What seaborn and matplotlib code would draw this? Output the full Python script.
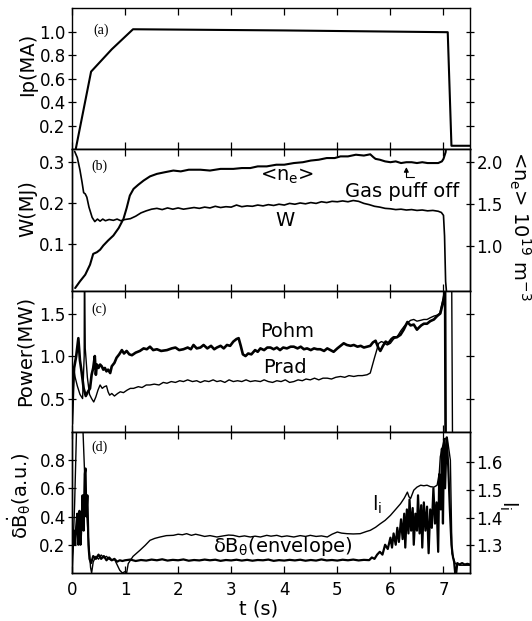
import matplotlib
matplotlib.use("Agg")
import matplotlib.pyplot as plt
from matplotlib.ticker import FormatStrFormatter
import seaborn as sns
import pandas as pd

# ---------------- data ----------------
IP_TRACE = [(0.07, 0.0), (0.36, 0.66), (0.75, 0.85), (1.15, 1.02), (4.0, 1.01),
            (7.08, 0.995), (7.15, 0.03), (7.5, 0.03)]

W_TRACE = [(0.05, 0.325), (0.10, 0.31), (0.15, 0.28), (0.19, 0.25), (0.22, 0.225), (0.25, 0.222),
           (0.28, 0.214), (0.32, 0.19), (0.38, 0.165), (0.43, 0.155), (0.48, 0.161), (0.53, 0.156),
           (0.58, 0.161), (0.63, 0.157), (0.70, 0.160), (0.78, 0.158), (0.85, 0.161), (0.92, 0.157),
           (1.00, 0.160), (1.10, 0.162), (1.20, 0.168), (1.30, 0.176), (1.40, 0.181), (1.50, 0.185),
           (1.60, 0.187), (1.70, 0.184), (1.80, 0.188), (1.90, 0.185), (2.00, 0.188), (2.10, 0.185),
           (2.20, 0.187), (2.30, 0.189), (2.40, 0.187), (2.50, 0.190), (2.60, 0.188), (2.70, 0.192),
           (2.80, 0.189), (2.90, 0.191), (3.00, 0.190), (3.10, 0.195), (3.20, 0.191), (3.30, 0.193),
           (3.40, 0.192), (3.50, 0.195), (3.60, 0.193), (3.70, 0.196), (3.80, 0.194), (3.90, 0.197),
           (4.00, 0.195), (4.10, 0.199), (4.20, 0.197), (4.30, 0.200), (4.40, 0.198), (4.50, 0.201),
           (4.60, 0.199), (4.70, 0.203), (4.80, 0.201), (4.90, 0.204), (5.00, 0.203), (5.10, 0.205),
           (5.20, 0.203), (5.30, 0.206), (5.40, 0.204), (5.50, 0.199), (5.60, 0.196), (5.70, 0.192),
           (5.80, 0.190), (5.90, 0.187), (6.00, 0.186), (6.10, 0.184), (6.20, 0.185), (6.30, 0.183),
           (6.40, 0.184), (6.50, 0.182), (6.60, 0.183), (6.70, 0.181), (6.80, 0.182), (6.90, 0.180),
           (6.96, 0.177), (7.00, 0.170), (7.02, 0.120), (7.04, 0.010), (7.06, -0.020)]

NE_TRACE = [(0.06, 0.49), (0.15, 0.57), (0.25, 0.65), (0.34, 0.77), (0.40, 0.90), (0.47, 0.92),
            (0.53, 0.95), (0.59, 1.00), (0.68, 1.06), (0.78, 1.12), (0.88, 1.21), (0.97, 1.32),
            (1.03, 1.45), (1.09, 1.60), (1.16, 1.68), (1.25, 1.73), (1.35, 1.78), (1.47, 1.83),
            (1.60, 1.86), (1.75, 1.88), (1.91, 1.90), (2.05, 1.89), (2.20, 1.91), (2.42, 1.91),
            (2.60, 1.90), (2.80, 1.92), (3.04, 1.92), (3.20, 1.93), (3.36, 1.93), (3.50, 1.95),
            (3.67, 1.95), (3.85, 1.97), (4.00, 1.97), (4.18, 1.99), (4.35, 2.00), (4.50, 2.02),
            (4.65, 2.03), (4.80, 2.05), (4.95, 2.05), (5.06, 2.07), (5.20, 2.07), (5.35, 2.09),
            (5.50, 2.08), (5.62, 2.095), (5.68, 2.06), (5.72, 2.04), (5.80, 2.03), (5.90, 2.01),
            (6.00, 2.00), (6.10, 2.01), (6.20, 1.99), (6.30, 2.00), (6.40, 2.00), (6.50, 1.99),
            (6.60, 2.00), (6.70, 1.99), (6.80, 1.99), (6.90, 1.99), (6.97, 2.01), (7.00, 2.04),
            (7.04, 2.12), (7.07, 2.30)]

POHM_TRACE = [(0.0, 0.2), (0.02, 0.6), (0.04, 0.86), (0.08, 1.0), (0.12, 1.21), (0.15, 0.95),
              (0.18, 0.82), (0.22, 0.62), (0.26, 0.53), (0.30, 0.58), (0.34, 0.62), (0.37, 0.78),
              (0.40, 0.86), (0.43, 1.0), (0.45, 0.78), (0.47, 0.9), (0.50, 0.86), (0.53, 0.9),
              (0.56, 0.88), (0.59, 0.84), (0.62, 0.86), (0.65, 0.82), (0.68, 0.84), (0.72, 0.80),
              (0.75, 0.88), (0.80, 0.92), (0.84, 0.98), (0.89, 1.02), (0.94, 1.07), (0.98, 1.03),
              (1.03, 1.06), (1.08, 1.02), (1.13, 1.01), (1.20, 1.04), (1.28, 1.06), (1.35, 1.09),
              (1.41, 1.08), (1.47, 1.11), (1.53, 1.07), (1.60, 1.08), (1.68, 1.06), (1.79, 1.07),
              (1.88, 1.09), (1.95, 1.10), (2.02, 1.07), (2.10, 1.08), (2.18, 1.10), (2.24, 1.08),
              (2.29, 1.13), (2.35, 1.09), (2.42, 1.10), (2.48, 1.13), (2.55, 1.09), (2.62, 1.12),
              (2.68, 1.08), (2.73, 1.10), (2.80, 1.12), (2.86, 1.09), (2.92, 1.13), (2.98, 1.12),
              (3.04, 1.17), (3.10, 1.20), (3.14, 1.21), (3.18, 1.12), (3.22, 1.02), (3.27, 1.00),
              (3.32, 1.03), (3.38, 1.02), (3.45, 1.07), (3.50, 1.05), (3.55, 1.09), (3.62, 1.07),
              (3.68, 1.10), (3.74, 1.10), (3.80, 1.08), (3.86, 1.10), (3.92, 1.07), (3.98, 1.10),
              (4.05, 1.09), (4.12, 1.11), (4.18, 1.11), (4.25, 1.09), (4.31, 1.11), (4.37, 1.08),
              (4.43, 1.09), (4.50, 1.07), (4.56, 1.09), (4.62, 1.08), (4.68, 1.08), (4.75, 1.06),
              (4.81, 1.09), (4.87, 1.07), (4.93, 1.05), (5.00, 1.09), (5.06, 1.12), (5.12, 1.15),
              (5.18, 1.13), (5.25, 1.12), (5.31, 1.13), (5.38, 1.11), (5.44, 1.12), (5.50, 1.10),
              (5.56, 1.11), (5.62, 1.12), (5.67, 1.16), (5.72, 1.18), (5.77, 1.10), (5.81, 1.06),
              (5.86, 1.12), (5.91, 1.17), (5.96, 1.15), (6.02, 1.20), (6.06, 1.22), (6.12, 1.22),
              (6.19, 1.25), (6.25, 1.31), (6.32, 1.40), (6.38, 1.36), (6.44, 1.37), (6.50, 1.31),
              (6.53, 1.33), (6.58, 1.36), (6.63, 1.38), (6.69, 1.38), (6.75, 1.41), (6.82, 1.43),
              (6.88, 1.47), (6.94, 1.50), (6.98, 1.60), (7.01, 1.68), (7.03, 1.85), (7.04, 0.0)]

PRAD_TRACE = [(0.0, 0.15), (0.03, 0.86), (0.06, 0.75), (0.10, 0.65), (0.15, 0.55), (0.20, 0.50),
              (0.23, 1.0), (0.235, 2.2), (0.25, 1.09), (0.29, 0.75), (0.33, 0.55), (0.37, 0.50),
              (0.41, 0.46), (0.45, 0.52), (0.49, 0.60), (0.53, 0.66), (0.57, 0.62), (0.61, 0.64),
              (0.65, 0.65), (0.68, 0.58), (0.71, 0.54), (0.75, 0.56), (0.80, 0.53), (0.86, 0.56),
              (0.91, 0.58), (0.97, 0.57), (1.04, 0.60), (1.10, 0.62), (1.16, 0.62), (1.25, 0.64),
              (1.32, 0.63), (1.40, 0.66), (1.47, 0.66), (1.55, 0.67), (1.64, 0.66), (1.72, 0.69),
              (1.79, 0.68), (1.87, 0.70), (1.95, 0.69), (2.03, 0.71), (2.10, 0.70), (2.18, 0.72),
              (2.27, 0.70), (2.35, 0.71), (2.42, 0.69), (2.50, 0.71), (2.58, 0.70), (2.66, 0.72),
              (2.73, 0.70), (2.80, 0.71), (2.88, 0.69), (2.96, 0.72), (3.04, 0.70), (3.12, 0.71),
              (3.20, 0.70), (3.28, 0.72), (3.36, 0.70), (3.45, 0.71), (3.55, 0.70), (3.62, 0.72),
              (3.70, 0.70), (3.78, 0.69), (3.86, 0.71), (3.94, 0.70), (4.02, 0.72), (4.10, 0.69),
              (4.18, 0.70), (4.26, 0.72), (4.34, 0.71), (4.41, 0.73), (4.49, 0.72), (4.57, 0.74),
              (4.65, 0.72), (4.73, 0.74), (4.81, 0.74), (4.89, 0.73), (4.97, 0.75), (5.06, 0.76),
              (5.14, 0.75), (5.22, 0.77), (5.31, 0.76), (5.39, 0.77), (5.47, 0.77), (5.56, 0.78),
              (5.62, 0.80), (5.70, 0.98), (5.78, 1.15), (5.83, 1.17), (5.87, 1.16), (5.94, 1.13),
              (6.00, 1.15), (6.06, 1.20), (6.13, 1.23), (6.20, 1.30), (6.26, 1.35), (6.32, 1.39),
              (6.38, 1.42), (6.44, 1.43), (6.50, 1.41), (6.57, 1.42), (6.63, 1.43), (6.69, 1.43),
              (6.75, 1.45), (6.82, 1.47), (6.88, 1.48), (6.93, 1.50), (6.98, 1.64), (7.02, 1.76),
              (7.04, 2.5), (7.15, 2.5), (7.17, 0.0)]

ENV_TRACE = [(0.0, 0.05), (0.02, 0.22), (0.04, 0.30), (0.06, 0.20), (0.08, 0.33), (0.10, 0.42),
             (0.12, 0.20), (0.14, 0.44), (0.16, 0.20), (0.18, 0.35), (0.20, 0.55), (0.22, 0.30),
             (0.24, 0.70), (0.255, 0.74), (0.27, 0.40), (0.29, 0.55), (0.31, 0.20), (0.33, 0.10),
             (0.36, 0.07), (0.40, 0.12), (0.45, 0.10), (0.50, 0.13), (0.55, 0.10), (0.60, 0.12),
             (0.65, 0.09), (0.70, 0.11), (0.75, 0.09), (0.80, 0.10), (0.85, 0.08), (0.90, 0.09),
             (0.95, 0.085), (1.00, 0.09), (1.10, 0.095), (1.20, 0.085), (1.30, 0.092), (1.40, 0.088),
             (1.50, 0.095), (1.60, 0.090), (1.70, 0.097), (1.80, 0.088), (1.90, 0.093), (2.00, 0.090),
             (2.10, 0.096), (2.20, 0.087), (2.30, 0.092), (2.40, 0.089), (2.50, 0.095), (2.60, 0.090),
             (2.70, 0.094), (2.80, 0.086), (2.90, 0.092), (3.00, 0.089), (3.10, 0.094), (3.20, 0.088),
             (3.30, 0.093), (3.40, 0.087), (3.50, 0.092), (3.60, 0.090), (3.70, 0.095), (3.80, 0.086),
             (3.90, 0.091), (4.00, 0.088), (4.10, 0.093), (4.20, 0.089), (4.30, 0.094), (4.40, 0.087),
             (4.50, 0.092), (4.60, 0.088), (4.70, 0.096), (4.80, 0.089), (4.90, 0.092), (5.00, 0.088),
             (5.10, 0.094), (5.20, 0.090), (5.30, 0.095), (5.40, 0.089), (5.50, 0.093), (5.60, 0.091),
             (5.65, 0.11), (5.70, 0.10), (5.75, 0.13), (5.80, 0.15), (5.85, 0.13), (5.90, 0.20),
             (5.95, 0.17), (6.00, 0.25), (6.03, 0.18), (6.06, 0.28), (6.10, 0.20), (6.13, 0.32),
             (6.16, 0.22), (6.20, 0.38), (6.23, 0.24), (6.26, 0.42), (6.28, 0.18), (6.31, 0.45),
             (6.34, 0.28), (6.36, 0.52), (6.39, 0.30), (6.42, 0.46), (6.44, 0.20), (6.47, 0.42),
             (6.50, 0.30), (6.52, 0.55), (6.55, 0.28), (6.58, 0.48), (6.60, 0.18), (6.63, 0.50),
             (6.66, 0.30), (6.69, 0.47), (6.72, 0.14), (6.75, 0.45), (6.78, 0.32), (6.81, 0.60),
             (6.84, 0.35), (6.87, 0.50), (6.90, 0.15), (6.92, 0.70), (6.95, 0.45), (6.97, 0.88),
             (6.99, 0.35), (7.01, 0.95), (7.03, 0.60), (7.06, 0.96), (7.09, 0.75), (7.12, 0.45),
             (7.15, 0.20), (7.18, 0.11), (7.20, 0.08), (7.22, 0.0), (7.24, 0.0), (7.26, 0.07),
             (7.30, 0.06), (7.35, 0.07), (7.40, 0.06), (7.45, 0.065), (7.50, 0.06)]

LI_TRACE = [(0.0, 1.25), (0.02, 1.29), (0.05, 1.45), (0.09, 1.75), (0.20, 1.75), (0.24, 1.55),
            (0.30, 1.35), (0.35, 1.22), (0.37, 1.20), (0.40, 1.24), (0.45, 1.26), (0.50, 1.25),
            (0.55, 1.265), (0.60, 1.255), (0.65, 1.26), (0.70, 1.25), (0.75, 1.245), (0.80, 1.25),
            (0.85, 1.23), (0.90, 1.21), (0.95, 1.20), (1.00, 1.205), (1.03, 1.20), (1.06, 1.234),
            (1.15, 1.26), (1.28, 1.282), (1.38, 1.30), (1.47, 1.318), (1.56, 1.325), (1.66, 1.33),
            (1.78, 1.335), (1.91, 1.336), (2.00, 1.34), (2.08, 1.338), (2.16, 1.342), (2.25, 1.336),
            (2.33, 1.34), (2.42, 1.336), (2.50, 1.332), (2.60, 1.335), (2.73, 1.33), (2.85, 1.334),
            (2.95, 1.337), (3.04, 1.336), (3.15, 1.331), (3.25, 1.334), (3.36, 1.33), (3.45, 1.333),
            (3.55, 1.33), (3.67, 1.336), (3.75, 1.333), (3.86, 1.336), (3.95, 1.331), (4.05, 1.334),
            (4.18, 1.33), (4.30, 1.335), (4.40, 1.332), (4.49, 1.336), (4.60, 1.332), (4.70, 1.334),
            (4.81, 1.33), (4.90, 1.34), (5.00, 1.348), (5.08, 1.344), (5.18, 1.342), (5.30, 1.341),
            (5.43, 1.342), (5.55, 1.35), (5.62, 1.354), (5.72, 1.365), (5.81, 1.378), (5.90, 1.39),
            (6.00, 1.408), (6.10, 1.43), (6.19, 1.45), (6.26, 1.47), (6.32, 1.492), (6.35, 1.475),
            (6.38, 1.469), (6.44, 1.499), (6.50, 1.51), (6.57, 1.517), (6.63, 1.515), (6.69, 1.517),
            (6.75, 1.512), (6.82, 1.51), (6.88, 1.517), (6.92, 1.56), (6.94, 1.62), (7.01, 1.68),
            (7.07, 1.69), (7.13, 1.607), (7.16, 1.27), (7.22, 1.234), (7.31, 1.228), (7.50, 1.228)]

T_TICKS = [0, 1, 2, 3, 4, 5, 6, 7]
IP_TICKS = [0.2, 0.4, 0.6, 0.8, 1.0]
W_TICKS = [0.1, 0.2, 0.3]
NE_TICKS = [1.0, 1.5, 2.0]
P_TICKS = [0.5, 1.0, 1.5]
DB_TICKS = [0.2, 0.4, 0.6, 0.8]
LI_TICKS = [1.3, 1.4, 1.5, 1.6]


def frame(trace):
    return pd.DataFrame(trace, columns=["t", "v"])


# ---------------- style ----------------
sns.set_theme(style="ticks")
plt.rcParams["font.family"] = ["DejaVu Sans"]
plt.rcParams["mathtext.fontset"] = "dejavusans"
plt.rcParams["mathtext.default"] = "regular"
for key in ("text.color", "axes.labelcolor", "xtick.color", "ytick.color", "axes.edgecolor"):
    plt.rcParams[key] = "black"
plt.rcParams["axes.linewidth"] = 1.0

fig, axes = plt.subplots(4, 1, sharex=True, figsize=(5.32, 6.21), dpi=100)
fig.subplots_adjust(left=0.1353, right=0.8835, top=0.987, bottom=0.0773, hspace=0)
ax_a, ax_b, ax_c, ax_d = axes
ax_b2 = ax_b.twinx()
ax_d2 = ax_d.twinx()


def line(ax, trace, lw):
    sns.lineplot(data=frame(trace), x="t", y="v", ax=ax, color="black", lw=lw,
                 estimator=None, sort=False, legend=False)


line(ax_a, IP_TRACE, 1.5)
line(ax_b, W_TRACE, 1.2)
line(ax_b2, NE_TRACE, 1.5)
line(ax_c, PRAD_TRACE, 1.0)
line(ax_c, POHM_TRACE, 1.9)
line(ax_d, ENV_TRACE, 1.6)
line(ax_d2, LI_TRACE, 1.0)

ax_d.set_xlim(0, 7.5)
ax_d.set_xticks(T_TICKS)

lims = {ax_a: (0, 1.2), ax_b: (-0.012, 0.33), ax_b2: (0.46, 2.155),
        ax_c: (0.11, 1.77), ax_d: (0, 1.0), ax_d2: (1.2, 1.71)}
ticks = {ax_a: IP_TICKS, ax_b: W_TICKS, ax_b2: NE_TICKS, ax_c: P_TICKS,
         ax_d: DB_TICKS, ax_d2: LI_TICKS}
for ax, lim in lims.items():
    ax.set_ylim(*lim)
    ax.set_yticks(ticks[ax])
    ax.yaxis.set_major_formatter(FormatStrFormatter("%.1f"))
    ax.set_xlabel("")
    ax.set_ylabel("")
    ax.tick_params(axis="y", direction="inout", length=6, width=0.9, labelsize=12, pad=1.5,
                   colors="black")

for ax in axes:
    ax.tick_params(axis="x", direction="in", top=True, bottom=True, length=5, width=0.9,
                   labelsize=12, pad=6, colors="black")
    for s in ax.spines.values():
        s.set_visible(True)
        s.set_linewidth(1.0)
        s.set_color("black")
for ax in (ax_a, ax_c):
    ax.tick_params(axis="y", right=True, left=True)

# y labels
ylab_kw = dict(fontsize=14, color="black")
ax_a.set_ylabel("Ip(MA)", **ylab_kw)
ax_b.set_ylabel("W(MJ)", **ylab_kw)
ax_c.set_ylabel("Power(MW)", **ylab_kw)
ax_d.set_ylabel(r"$\delta\dot{B}_{\theta}$(a.u.)", **ylab_kw)
ax_a.yaxis.set_label_coords(-0.088, 0.60)
ax_b.yaxis.set_label_coords(-0.088, 0.58)
ax_c.yaxis.set_label_coords(-0.093, 0.57)
ax_d.yaxis.set_label_coords(-0.098, 0.55)

fig.text(520 / 532, 1 - 226 / 621, r"<n$_e$> 10$^{19}$ m$^{-3}$", rotation=270,
         ha="center", va="center", fontsize=14)
fig.text(508 / 532, 1 - 505 / 621, r"l$_i$", rotation=270, ha="center", va="center",
         fontsize=14)

ax_d.set_xlabel("t (s)", fontsize=14, color="black")
ax_d.xaxis.set_label_coords(0.47, -0.19)

# panel tags
tag_kw = dict(fontsize=10, family="Liberation Serif", va="center", ha="left")
ax_a.text(0.055, 0.84, "(a)", transform=ax_a.transAxes, **tag_kw)
ax_b.text(0.048, 0.88, "(b)", transform=ax_b.transAxes, **tag_kw)
ax_c.text(0.048, 0.865, "(c)", transform=ax_c.transAxes, **tag_kw)
ax_d.text(0.048, 0.887, "(d)", transform=ax_d.transAxes, **tag_kw)

# annotations
ax_b.text(4.06, 0.264, r"<n$_e$>", ha="center", va="center", fontsize=14)
ax_b.text(6.23, 0.228, "Gas puff off", ha="center", va="center", fontsize=14)
ax_b.text(4.02, 0.158, "W", ha="center", va="center", fontsize=14)
ax_b.annotate("", xy=(6.30, 0.287), xytext=(6.45, 0.262),
              arrowprops=dict(arrowstyle="-|>", color="black", lw=0.8, mutation_scale=7,
                              shrinkA=0, shrinkB=0,
                              connectionstyle="angle,angleA=180,angleB=90,rad=0"))
ax_c.text(4.06, 1.29, "Pohm", ha="center", va="center", fontsize=14)
ax_c.text(4.02, 0.86, "Prad", ha="center", va="center", fontsize=14)
ax_d.text(5.75, 0.48, r"l$_i$", ha="center", va="center", fontsize=14)
ax_d.text(3.98, 0.19, r"$\delta B_{\theta}$(envelope)", ha="center", va="center", fontsize=14)

fig.savefig("out.png", dpi=100)
